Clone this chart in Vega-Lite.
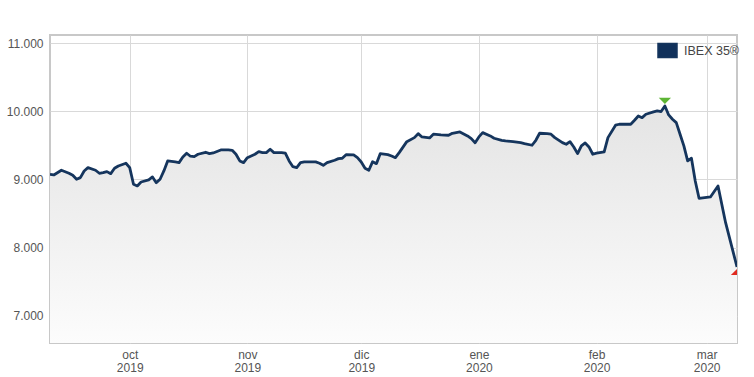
{
  "$schema": "https://vega.github.io/schema/vega-lite/v6.json",
  "autosize": {"type": "none"},
  "width": 687,
  "height": 308,
  "padding": {"left": 50, "top": 35, "right": 17, "bottom": 34},
  "background": "#ffffff",
  "config": {
    "view": {"stroke": "#c8c8c8", "strokeWidth": 2},
    "font": "Liberation Sans"
  },
  "data": {"values": [
    {"date":"2019-09-10","v":9076},{"date":"2019-09-11","v":9066},{"date":"2019-09-13","v":9135},{"date":"2019-09-15","v":9091},
    {"date":"2019-09-16","v":9062},{"date":"2019-09-17","v":9003},{"date":"2019-09-18","v":9027},{"date":"2019-09-19","v":9125},
    {"date":"2019-09-20","v":9173},{"date":"2019-09-22","v":9135},{"date":"2019-09-23","v":9091},{"date":"2019-09-24","v":9100},
    {"date":"2019-09-25","v":9115},{"date":"2019-09-26","v":9085},{"date":"2019-09-27","v":9164},{"date":"2019-09-28","v":9198},
    {"date":"2019-09-30","v":9238},{"date":"2019-10-01","v":9173},{"date":"2019-10-02","v":8930},{"date":"2019-10-03","v":8905},
    {"date":"2019-10-04","v":8963},{"date":"2019-10-06","v":8993},{"date":"2019-10-07","v":9037},{"date":"2019-10-08","v":8953},
    {"date":"2019-10-09","v":9003},{"date":"2019-10-10","v":9125},{"date":"2019-10-11","v":9272},{"date":"2019-10-13","v":9257},
    {"date":"2019-10-14","v":9247},{"date":"2019-10-15","v":9330},{"date":"2019-10-16","v":9385},{"date":"2019-10-17","v":9341},
    {"date":"2019-10-18","v":9335},{"date":"2019-10-19","v":9370},{"date":"2019-10-21","v":9399},{"date":"2019-10-22","v":9379},
    {"date":"2019-10-23","v":9389},{"date":"2019-10-25","v":9433},{"date":"2019-10-27","v":9433},{"date":"2019-10-28","v":9428},
    {"date":"2019-10-29","v":9370},{"date":"2019-10-30","v":9272},{"date":"2019-10-31","v":9247},{"date":"2019-11-01","v":9320},
    {"date":"2019-11-03","v":9370},{"date":"2019-11-04","v":9408},{"date":"2019-11-05","v":9394},{"date":"2019-11-06","v":9394},
    {"date":"2019-11-07","v":9443},{"date":"2019-11-08","v":9394},{"date":"2019-11-10","v":9394},{"date":"2019-11-11","v":9385},
    {"date":"2019-11-12","v":9272},{"date":"2019-11-13","v":9188},{"date":"2019-11-14","v":9173},{"date":"2019-11-15","v":9247},
    {"date":"2019-11-16","v":9257},{"date":"2019-11-19","v":9257},{"date":"2019-11-20","v":9238},{"date":"2019-11-21","v":9208},
    {"date":"2019-11-22","v":9247},{"date":"2019-11-24","v":9282},{"date":"2019-11-25","v":9306},{"date":"2019-11-26","v":9311},
    {"date":"2019-11-27","v":9364},{"date":"2019-11-29","v":9360},{"date":"2019-11-30","v":9320},{"date":"2019-12-01","v":9257},
    {"date":"2019-12-02","v":9164},{"date":"2019-12-03","v":9135},{"date":"2019-12-04","v":9261},{"date":"2019-12-05","v":9232},
    {"date":"2019-12-06","v":9379},{"date":"2019-12-08","v":9364},{"date":"2019-12-09","v":9345},{"date":"2019-12-10","v":9320},
    {"date":"2019-12-11","v":9394},{"date":"2019-12-13","v":9555},{"date":"2019-12-15","v":9614},{"date":"2019-12-16","v":9672},
    {"date":"2019-12-17","v":9624},{"date":"2019-12-19","v":9610},{"date":"2019-12-20","v":9664},{"date":"2019-12-22","v":9653},
    {"date":"2019-12-24","v":9649},{"date":"2019-12-25","v":9678},{"date":"2019-12-27","v":9697},{"date":"2019-12-29","v":9639},
    {"date":"2019-12-30","v":9599},{"date":"2019-12-31","v":9540},{"date":"2020-01-01","v":9624},{"date":"2020-01-02","v":9687},
    {"date":"2020-01-04","v":9639},{"date":"2020-01-05","v":9605},{"date":"2020-01-07","v":9575},{"date":"2020-01-08","v":9565},
    {"date":"2020-01-10","v":9555},{"date":"2020-01-12","v":9540},{"date":"2020-01-13","v":9526},{"date":"2020-01-15","v":9502},
    {"date":"2020-01-16","v":9575},{"date":"2020-01-17","v":9678},{"date":"2020-01-19","v":9672},{"date":"2020-01-20","v":9664},
    {"date":"2020-01-21","v":9614},{"date":"2020-01-23","v":9540},{"date":"2020-01-24","v":9517},{"date":"2020-01-25","v":9555},
    {"date":"2020-01-26","v":9477},{"date":"2020-01-27","v":9379},{"date":"2020-01-28","v":9492},{"date":"2020-01-29","v":9536},
    {"date":"2020-01-30","v":9477},{"date":"2020-01-31","v":9370},{"date":"2020-02-01","v":9385},{"date":"2020-02-03","v":9404},
    {"date":"2020-02-04","v":9614},{"date":"2020-02-06","v":9796},{"date":"2020-02-07","v":9810},{"date":"2020-02-10","v":9810},
    {"date":"2020-02-11","v":9869},{"date":"2020-02-12","v":9932},{"date":"2020-02-13","v":9907},{"date":"2020-02-14","v":9957},
    {"date":"2020-02-16","v":9991},{"date":"2020-02-17","v":10006},{"date":"2020-02-18","v":9996},{"date":"2020-02-19","v":10079},
    {"date":"2020-02-20","v":9947},{"date":"2020-02-21","v":9884},{"date":"2020-02-22","v":9834},{"date":"2020-02-23","v":9664},
    {"date":"2020-02-24","v":9492},{"date":"2020-02-25","v":9272},{"date":"2020-02-26","v":9311},{"date":"2020-02-27","v":8978},
    {"date":"2020-02-28","v":8724},{"date":"2020-03-02","v":8743},{"date":"2020-03-04","v":8905},{"date":"2020-03-06","v":8366},
    {"date":"2020-03-09","v":7715}
  ]},
  "encoding": {
    "x": {
      "field": "date", "type": "temporal", "title": null,
      "scale": {"type": "utc", "domain": [{"year": 2019, "month": 9, "date": 10, "utc": true}, {"year": 2020, "month": 3, "date": 9, "utc": true}]},
      "axis": {
        "values": [
          {"year": 2019, "month": 10, "date": 1, "utc": true},
          {"year": 2019, "month": 11, "date": 1, "utc": true},
          {"year": 2019, "month": 12, "date": 1, "utc": true},
          {"year": 2020, "month": 1, "date": 1, "utc": true},
          {"year": 2020, "month": 2, "date": 1, "utc": true},
          {"year": 2020, "month": 3, "date": 1, "utc": true}
        ],
        "labelExpr": "[['ene','feb','mar','abr','may','jun','jul','ago','sep','oct','nov','dic'][utcmonth(datum.value)], '' + utcyear(datum.value)]",
        "domain": false, "ticks": false, "grid": true, "gridColor": "#d9d9d9", "gridWidth": 1,
        "labelFont": "Liberation Sans", "labelFontSize": 12, "labelColor": "#555555",
        "labelPadding": 6, "labelLineHeight": 13, "labelFlush": false, "labelOverlap": false
      }
    },
    "y": {
      "field": "v", "type": "quantitative", "title": null,
      "scale": {"domain": [6600, 11120], "zero": false, "nice": false},
      "axis": {
        "values": [7000, 8000, 9000, 10000, 11000],
        "labelExpr": "replace(format(datum.value, ',.0f'), ',', '.')",
        "domain": false, "ticks": false, "grid": true, "gridColor": "#d9d9d9", "gridWidth": 1,
        "labelFont": "Liberation Sans", "labelFontSize": 12, "labelColor": "#555555", "labelPadding": 7
      }
    }
  },
  "layer": [
    {
      "mark": {
        "type": "area", "clip": true,
        "fill": {"gradient": "linear", "x1": 0, "y1": 0, "x2": 0, "y2": 1,
          "stops": [{"offset": 0, "color": "#e4e4e4"}, {"offset": 1, "color": "#fcfcfc"}]}
      },
      "encoding": {"y2": {"datum": 6600}}
    },
    {
      "mark": {"type": "line", "strokeWidth": 2.8, "strokeJoin": "round", "clip": true},
      "encoding": {
        "color": {
          "datum": "IBEX 35®",
          "scale": {"range": ["#15355d"]},
          "legend": {
            "orient": "none", "legendX": 607, "legendY": 5, "title": null, "padding": 0,
            "symbolType": "M-1,-0.74H1V0.74H-1Z", "symbolSize": 361,
            "labelFont": "Liberation Sans", "labelFontSize": 12.5, "labelColor": "#444444", "labelOffset": 6,
            "encode": {"symbols": {"update": {"fill": {"value": "#10305a"}, "stroke": {"value": "#9a9a9a"}, "strokeWidth": {"value": 1.5}, "opacity": {"value": 1}}}}
          }
        }
      }
    },
    {
      "transform": [
        {"joinaggregate": [{"op": "max", "field": "v", "as": "vmax"}]},
        {"filter": "datum.v == datum.vmax"}
      ],
      "mark": {"type": "point", "filled": true, "shape": "M-1,-0.5L1,-0.5L0,0.5Z", "size": 150, "fill": "#5db534", "opacity": 1, "yOffset": -5, "strokeWidth": 0}
    },
    {
      "transform": [
        {"joinaggregate": [{"op": "min", "field": "v", "as": "vmin"}]},
        {"filter": "datum.v == datum.vmin"}
      ],
      "mark": {"type": "point", "filled": true, "shape": "M0,-0.5L1,0.5L-1,0.5Z", "size": 150, "fill": "#e02a20", "opacity": 1, "yOffset": 5, "strokeWidth": 0, "clip": true}
    }
  ]
}
